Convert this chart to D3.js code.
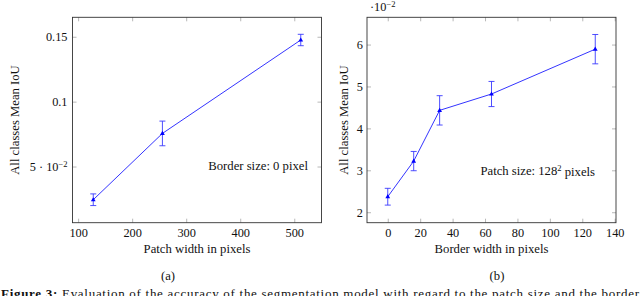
<!DOCTYPE html>
<html>
<head>
<meta charset="utf-8">
<script src="https://cdn.jsdelivr.net/npm/d3@7"></script>
<style>
  body { margin: 0; background: #fff; }
  svg { display: block; }
  svg text { font-family: "Liberation Serif", "DejaVu Serif", serif !important; fill: #111; }
</style>
</head>
<body>
<svg width="640" height="296" font-family="Liberation Serif, DejaVu Serif, serif"></svg>
<script>
// data
var patchWidth = [128, 256, 512],
    patchIoU   = [0.0244, 0.0755, 0.1475],
    patchErr   = [0.0045, 0.0095, 0.0044];

var borderWidth = [0, 16, 32, 64, 128],
    borderIoU   = [2.37, 3.22, 4.43, 4.82, 5.89],   // x 10^-2
    borderErr   = [0.20, 0.23, 0.35, 0.30, 0.35];

var ticksA_x = [100, 200, 300, 400, 500],
    ticksA_y = [0.05, 0.1, 0.15],
    ticksB_x = [0, 20, 40, 60, 80, 100, 120, 140],
    ticksB_y = [2, 3, 4, 5, 6];

var svg = d3.select("svg"),
    top0 = 17.3, bottom0 = 222.7,
    serif = "'Liberation Serif', 'DejaVu Serif', serif";

// draws one pgfplots-like panel
function panel(opt) {
  var x = d3.scaleLinear().domain(opt.xdom).range([opt.left, opt.right]),
      y = d3.scaleLinear().domain(opt.ydom).range([bottom0, top0]);
  var g = svg.append("g");

  // ticks inside, on all four sides
  g.append("g")
      .attr("transform", "translate(0," + bottom0 + ")")
      .call(d3.axisBottom(x).tickValues(opt.xt).tickSize(-4).tickPadding(6));
  g.append("g")
      .attr("transform", "translate(0," + top0 + ")")
      .call(d3.axisTop(x).tickValues(opt.xt).tickSize(-4).tickFormat(""));
  g.append("g")
      .attr("class", "yax")
      .attr("transform", "translate(" + opt.left + ",0)")
      .call(d3.axisLeft(y).tickValues(opt.yt).tickSize(-4).tickPadding(opt.ypad).tickFormat(opt.yfmt));
  g.append("g")
      .attr("transform", "translate(" + opt.right + ",0)")
      .call(d3.axisRight(y).tickValues(opt.yt).tickSize(-4).tickFormat(""));

  g.selectAll(".domain").remove();
  g.selectAll("g").attr("font-family", serif);
  g.selectAll(".tick line").attr("stroke", "#999").attr("stroke-width", 0.7);
  g.selectAll(".tick text")
      .style("font-size", "12.3px").attr("fill", "#111");

  g.append("rect")
      .attr("x", opt.left).attr("y", top0)
      .attr("width", opt.right - opt.left).attr("height", bottom0 - top0)
      .attr("fill", "none").attr("stroke", "#333").attr("stroke-width", 0.9);

  var pts = opt.xs.map(function(v, i) { return {x: v, y: opt.ys[i], e: opt.es[i]}; });

  g.append("path")
      .datum(pts)
      .attr("fill", "none").attr("stroke", "blue").attr("stroke-width", 0.8)
      .attr("d", d3.line().x(function(d) { return x(d.x); }).y(function(d) { return y(d.y); }));

  var eb = g.selectAll(".err").data(pts).enter().append("g")
      .attr("stroke", "#3a3aff").attr("stroke-width", 0.9);
  eb.append("line")
      .attr("x1", function(d) { return x(d.x); }).attr("x2", function(d) { return x(d.x); })
      .attr("y1", function(d) { return y(d.y + d.e); }).attr("y2", function(d) { return y(d.y - d.e); });
  [1, -1].forEach(function(s) {
    eb.append("line")
        .attr("x1", function(d) { return x(d.x) - 3; }).attr("x2", function(d) { return x(d.x) + 3; })
        .attr("y1", function(d) { return y(d.y + s * d.e); }).attr("y2", function(d) { return y(d.y + s * d.e); });
  });

  g.selectAll(".mk").data(pts).enter().append("path")
      .attr("fill", "blue")
      .attr("transform", function(d) { return "translate(" + x(d.x) + "," + y(d.y) + ")"; })
      .attr("d", "M0,-2.6L2.4,1.6L-2.4,1.6Z");

  // labels
  g.append("text")
      .attr("x", (opt.left + opt.right) / 2).attr("y", 252.5)
      .attr("text-anchor", "middle").style("font-size", "12.7px")
      .text(opt.xlabel);
  g.append("text")
      .attr("transform", "translate(" + opt.ylabx + "," + (top0 + bottom0) / 2 + ") rotate(-90)")
      .attr("text-anchor", "middle").attr("dy", "0.35em").style("font-size", "12.7px")
      .text("All classes Mean IoU");
  g.append("text")
      .attr("x", opt.subx).attr("y", 280)
      .attr("text-anchor", "middle").style("font-size", "12.7px")
      .text(opt.sub);

  return {g: g, x: x, y: y};
}

var a = panel({
  left: 72.5, right: 321.5,
  xdom: [89.6, 550.4], ydom: [0.0067, 0.165],
  xt: ticksA_x, yt: ticksA_y, ypad: 5,
  yfmt: function(d) { return d === 0.05 ? "" : String(d); },
  xs: patchWidth, ys: patchIoU, es: patchErr,
  xlabel: "Patch width in pixels", ylabx: 15,
  sub: "(a)", subx: 168
});

// 5 · 10^-2 tick label
a.g.selectAll(".yax .tick text").each(function(d) {
  if (d !== 0.05) return;
  var t = d3.select(this);
  t.text("5 · 10");
  t.append("tspan").attr("dy", "-0.45em").style("font-size", "8.5px").text("−2");
});

a.g.append("text")
    .attr("x", 308).attr("y", 169.5).attr("text-anchor", "end")
    .style("font-size", "12.7px")
    .text("Border size: 0 pixel");

var b = panel({
  left: 367, right: 616,
  xdom: [-12.8, 140.8], ydom: [1.75, 6.65],
  xt: ticksB_x, yt: ticksB_y, ypad: 4,
  yfmt: d3.format("d"),
  xs: borderWidth, ys: borderIoU, es: borderErr,
  xlabel: "Border width in pixels", ylabx: 344,
  sub: "(b)", subx: 497
});

var sc = b.g.append("text").attr("x", 370).attr("y", 11).style("font-size", "12.3px");
sc.append("tspan").text("·10");
sc.append("tspan").attr("dy", "-0.45em").style("font-size", "8.5px").text("−2");

var ann = b.g.append("text")
    .attr("x", 595).attr("y", 174.5).attr("text-anchor", "end")
    .style("font-size", "12.7px");
ann.append("tspan").text("Patch size: 128");
ann.append("tspan").attr("dy", "-0.4em").style("font-size", "8.5px").text("2");
ann.append("tspan").attr("dy", "0.4em").text(" pixels");

// figure caption, cut by the bottom edge
var cap = svg.append("text")
    .attr("x", 1).attr("y", 298)
    .style("font-size", "13px")
    .attr("textLength", 638).attr("lengthAdjust", "spacing");
cap.append("tspan").style("font-weight", "bold").text("Figure 3: ");
cap.append("tspan").text("Evaluation of the accuracy of the segmentation model with regard to the patch size and the border");
</script>
</body>
</html>
